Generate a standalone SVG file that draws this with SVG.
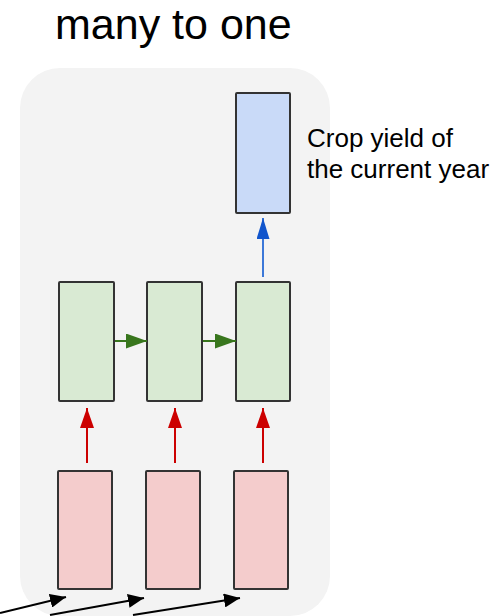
<svg xmlns="http://www.w3.org/2000/svg" width="503" height="616" viewBox="0 0 503 616">
  <style>
    .label { font-family: "Liberation Sans", Arial, sans-serif; fill: #000; }
    .box { stroke: #333; stroke-width: 2; }
    .in { fill: #f4cccc; }
    .hid { fill: #d9ead3; }
    .out { fill: #c9daf8; }
    .red { stroke: #cc0000; stroke-width: 2; fill: none; }
    .grn { stroke: #38761d; stroke-width: 2; fill: none; }
    .blu { stroke: #3c78d8; stroke-width: 2; fill: none; }
    .blk { stroke: #000; stroke-width: 2; fill: none; }
  </style>
  <defs>
    <marker id="headRed" viewBox="0 0 20 14" refX="20" refY="7" markerWidth="20" markerHeight="14" markerUnits="userSpaceOnUse" orient="auto">
      <path d="M0,0 L20,7 L0,14 z" fill="#cc0000"/>
    </marker>
    <marker id="headGrn" viewBox="0 0 21 15" refX="21" refY="7.5" markerWidth="21" markerHeight="15" markerUnits="userSpaceOnUse" orient="auto">
      <path d="M0,0 L21,7.5 L0,15 z" fill="#38761d"/>
    </marker>
    <marker id="headBlu" viewBox="0 0 21 13" refX="21" refY="6.5" markerWidth="21" markerHeight="13" markerUnits="userSpaceOnUse" orient="auto">
      <path d="M0,0 L21,6.5 L0,13 z" fill="#1155cc"/>
    </marker>
    <marker id="headBlk" viewBox="0 0 16 14" refX="16" refY="7" markerWidth="16" markerHeight="14" markerUnits="userSpaceOnUse" orient="auto">
      <path d="M0,0 L16,7 L0,14 z" fill="#000"/>
    </marker>
  </defs>

  <rect width="503" height="616" fill="#fff"/>

  <text class="label" x="55" y="39" font-size="43">many to one</text>

  <!-- panel -->
  <rect x="20" y="68" width="310" height="548" rx="40" ry="40" fill="#f3f3f3"/>

  <!-- output -->
  <g id="output">
    <rect class="box out" x="236" y="93" width="54" height="120" rx="1"/>
  </g>
  <g id="output-label">
    <text class="label" x="307" y="147" font-size="26">Crop yield of</text>
    <text class="label" x="307" y="178" font-size="26">the current year</text>
  </g>

  <!-- hidden states -->
  <g id="hidden1"><rect class="box hid" x="59" y="282" width="55" height="119" rx="1"/></g>
  <g id="hidden2"><rect class="box hid" x="147" y="282" width="55" height="119" rx="1"/></g>
  <g id="hidden3"><rect class="box hid" x="236" y="282" width="54" height="119" rx="1"/></g>

  <!-- inputs -->
  <g id="input1"><rect class="box in" x="58" y="471" width="54" height="118" rx="1"/></g>
  <g id="input2"><rect class="box in" x="146" y="471" width="54" height="118" rx="1"/></g>
  <g id="input3"><rect class="box in" x="234" y="471" width="54" height="118" rx="1"/></g>

  <g id="connectors">
    <line class="blu" x1="263" y1="277" x2="263" y2="218" marker-end="url(#headBlu)"/>
    <line class="grn" x1="115" y1="341" x2="147" y2="341" marker-end="url(#headGrn)"/>
    <line class="grn" x1="203" y1="341" x2="236" y2="341" marker-end="url(#headGrn)"/>
    <line class="red" x1="87" y1="463" x2="87" y2="408" marker-end="url(#headRed)"/>
    <line class="red" x1="175" y1="463" x2="175" y2="408" marker-end="url(#headRed)"/>
    <line class="red" x1="263" y1="463" x2="263" y2="408" marker-end="url(#headRed)"/>
    <line class="blk" x1="0" y1="613" x2="66" y2="597" marker-end="url(#headBlk)"/>
    <line class="blk" x1="50" y1="615" x2="144" y2="598" marker-end="url(#headBlk)"/>
    <line class="blk" x1="133" y1="615" x2="240" y2="598" marker-end="url(#headBlk)"/>
  </g>
</svg>
